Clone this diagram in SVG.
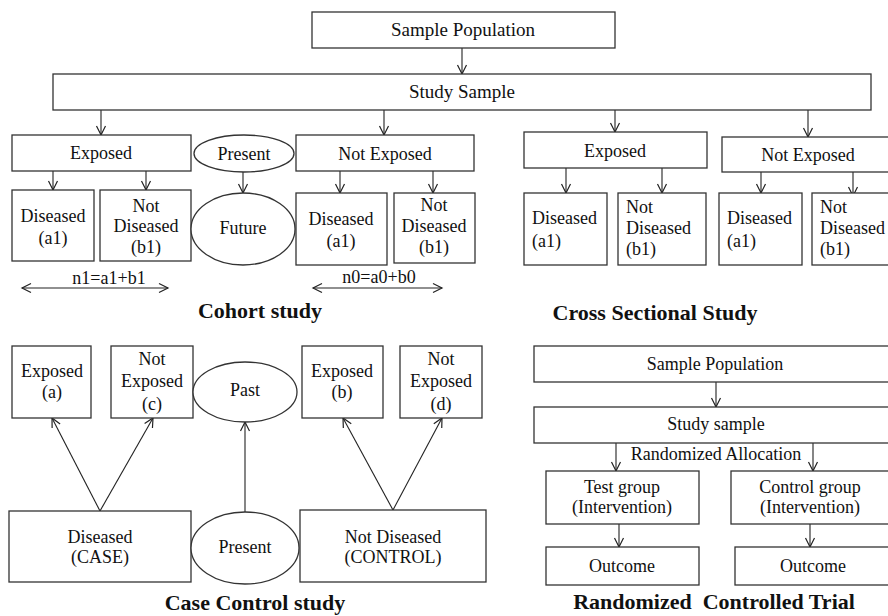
<svg xmlns="http://www.w3.org/2000/svg" width="888" height="616" viewBox="0 0 888 616">
<style>
.b{fill:#fff;stroke:#333;stroke-width:1.3}
.t{font-family:"Liberation Serif","Times New Roman",serif;font-size:18px;fill:#111;text-anchor:middle}
.l{text-anchor:start}
.big{font-size:19px}
.h{font-family:"Liberation Serif","Times New Roman",serif;font-size:22px;font-weight:bold;fill:#111;text-anchor:middle}
.c{fill:none;stroke:#222;stroke-width:1.1}
</style>
<defs>
<marker id="ah" viewBox="-10 -6 12 12" refX="0" refY="0" markerWidth="12" markerHeight="12" markerUnits="userSpaceOnUse" orient="auto-start-reverse">
<path d="M-9,-4.5 L0,0 L-9,4.5" fill="none" stroke="#222" stroke-width="1.2"/>
</marker>
</defs>
<rect width="888" height="616" fill="#fff"/>

<g id="connectors">
<line class="c" x1="462" y1="48" x2="462" y2="74" marker-end="url(#ah)"/>
<line class="c" x1="101" y1="110" x2="101" y2="135" marker-end="url(#ah)"/>
<line class="c" x1="384" y1="110" x2="384" y2="135" marker-end="url(#ah)"/>
<line class="c" x1="615" y1="110" x2="615" y2="132" marker-end="url(#ah)"/>
<line class="c" x1="808" y1="110" x2="808" y2="137" marker-end="url(#ah)"/>
<line class="c" x1="53" y1="171" x2="53" y2="190" marker-end="url(#ah)"/>
<line class="c" x1="146" y1="171" x2="146" y2="190" marker-end="url(#ah)"/>
<line class="c" x1="243" y1="172" x2="243" y2="193" marker-end="url(#ah)"/>
<line class="c" x1="340" y1="171" x2="340" y2="193" marker-end="url(#ah)"/>
<line class="c" x1="433" y1="171" x2="433" y2="193" marker-end="url(#ah)"/>
<line class="c" x1="22" y1="288" x2="168" y2="288" marker-start="url(#ah)" marker-end="url(#ah)"/>
<line class="c" x1="313" y1="288" x2="442" y2="288" marker-start="url(#ah)" marker-end="url(#ah)"/>
<line class="c" x1="566" y1="168" x2="566" y2="193" marker-end="url(#ah)"/>
<line class="c" x1="662" y1="168" x2="662" y2="193" marker-end="url(#ah)"/>
<line class="c" x1="761" y1="172" x2="761" y2="193" marker-end="url(#ah)"/>
<line class="c" x1="853" y1="172" x2="853" y2="196" marker-end="url(#ah)"/>
<line class="c" x1="100" y1="511" x2="52" y2="418" marker-end="url(#ah)"/>
<line class="c" x1="100" y1="511" x2="153" y2="418" marker-end="url(#ah)"/>
<line class="c" x1="245" y1="512" x2="245" y2="422" marker-end="url(#ah)"/>
<line class="c" x1="393" y1="510" x2="343" y2="418" marker-end="url(#ah)"/>
<line class="c" x1="393" y1="510" x2="442" y2="418" marker-end="url(#ah)"/>
<line class="c" x1="716" y1="382" x2="716" y2="407" marker-end="url(#ah)"/>
<line class="c" x1="616" y1="443" x2="616" y2="471" marker-end="url(#ah)"/>
<line class="c" x1="813" y1="443" x2="813" y2="471" marker-end="url(#ah)"/>
<line class="c" x1="619" y1="524" x2="619" y2="547" marker-end="url(#ah)"/>
<line class="c" x1="810" y1="524" x2="810" y2="547" marker-end="url(#ah)"/>
</g>

<g id="top-sample-population"><rect class="b" x="312" y="12" width="303" height="36"/><text class="t big" x="463" y="36">Sample Population</text></g>
<g id="top-study-sample"><rect class="b" x="53" y="74" width="818" height="36"/><text class="t big" x="462" y="98">Study Sample</text></g>

<g id="cohort-exposed"><rect class="b" x="12" y="135" width="179" height="36"/><text class="t" x="101" y="159">Exposed</text></g>
<g id="cohort-present"><ellipse class="b" cx="244" cy="153.5" rx="50" ry="18.5"/><text class="t" x="244" y="160">Present</text></g>
<g id="cohort-not-exposed"><rect class="b" x="296" y="135" width="178" height="36"/><text class="t" x="385" y="160">Not Exposed</text></g>
<g id="cohort-diseased-1"><rect class="b" x="12" y="190" width="82" height="71"/><text class="t" x="53" y="222">Diseased</text><text class="t" x="53" y="244">(a1)</text></g>
<g id="cohort-not-diseased-1"><rect class="b" x="100" y="190" width="91" height="71"/><text class="t" x="146" y="212">Not</text><text class="t" x="146" y="232">Diseased</text><text class="t" x="146" y="253">(b1)</text></g>
<g id="cohort-future"><ellipse class="b" cx="243" cy="229" rx="52" ry="36"/><text class="t" x="243" y="234">Future</text></g>
<g id="cohort-diseased-0"><rect class="b" x="296" y="193" width="91" height="72"/><text class="t" x="341" y="225">Diseased</text><text class="t" x="341" y="247">(a1)</text></g>
<g id="cohort-not-diseased-0"><rect class="b" x="394" y="193" width="81" height="70"/><text class="t" x="434" y="211">Not</text><text class="t" x="434" y="232">Diseased</text><text class="t" x="434" y="253">(b1)</text></g>
<g id="cohort-n1"><text class="t" x="109" y="284">n1=a1+b1</text></g>
<g id="cohort-n0"><text class="t" x="379" y="283">n0=a0+b0</text></g>
<g id="cohort-title"><text class="h" x="260" y="318">Cohort study</text></g>

<g id="cs-exposed"><rect class="b" x="524" y="132" width="183" height="36"/><text class="t" x="615" y="157">Exposed</text></g>
<g id="cs-not-exposed"><rect class="b" x="722" y="137" width="170" height="35"/><text class="t" x="808" y="161">Not Exposed</text></g>
<g id="cs-diseased-1"><rect class="b" x="524" y="193" width="83" height="72"/><text class="t l" x="532" y="224">Diseased</text><text class="t l" x="532" y="247">(a1)</text></g>
<g id="cs-not-diseased-1"><rect class="b" x="618" y="193" width="88" height="72"/><text class="t l" x="626" y="213">Not</text><text class="t l" x="626" y="234">Diseased</text><text class="t l" x="626" y="255">(b1)</text></g>
<g id="cs-diseased-0"><rect class="b" x="719" y="193" width="83" height="72"/><text class="t l" x="727" y="224">Diseased</text><text class="t l" x="727" y="247">(a1)</text></g>
<g id="cs-not-diseased-0"><rect class="b" x="812" y="193" width="80" height="72"/><text class="t l" x="820" y="213">Not</text><text class="t l" x="820" y="234">Diseased</text><text class="t l" x="820" y="255">(b1)</text></g>
<g id="cs-title"><text class="h" x="655" y="320">Cross Sectional Study</text></g>

<g id="cc-exposed-a"><rect class="b" x="12" y="346" width="79" height="72"/><text class="t" x="52" y="377">Exposed</text><text class="t" x="52" y="398">(a)</text></g>
<g id="cc-not-exposed-c"><rect class="b" x="111" y="346" width="82" height="72"/><text class="t" x="152" y="365">Not</text><text class="t" x="152" y="387">Exposed</text><text class="t" x="152" y="410">(c)</text></g>
<g id="cc-past"><ellipse class="b" cx="245" cy="392" rx="52" ry="30"/><text class="t" x="245" y="396">Past</text></g>
<g id="cc-exposed-b"><rect class="b" x="302" y="346" width="81" height="72"/><text class="t" x="342" y="377">Exposed</text><text class="t" x="342" y="398">(b)</text></g>
<g id="cc-not-exposed-d"><rect class="b" x="400" y="346" width="82" height="72"/><text class="t" x="441" y="365">Not</text><text class="t" x="441" y="387">Exposed</text><text class="t" x="441" y="410">(d)</text></g>
<g id="cc-case"><rect class="b" x="9" y="511" width="182" height="71"/><text class="t" x="100" y="543">Diseased</text><text class="t" x="100" y="563">(CASE)</text></g>
<g id="cc-present"><ellipse class="b" cx="245" cy="548" rx="54" ry="36"/><text class="t" x="245" y="553">Present</text></g>
<g id="cc-control"><rect class="b" x="300" y="510" width="186" height="72"/><text class="t" x="393" y="543">Not Diseased</text><text class="t" x="393" y="563">(CONTROL)</text></g>
<g id="cc-title"><text class="h" x="255" y="610">Case Control study</text></g>

<g id="rct-sample-population"><rect class="b" x="534" y="346" width="358" height="36"/><text class="t" x="715" y="370">Sample Population</text></g>
<g id="rct-study-sample"><rect class="b" x="534" y="407" width="358" height="36"/><text class="t" x="716" y="430">Study sample</text></g>
<g id="rct-allocation"><text class="t" x="716" y="460">Randomized Allocation</text></g>
<g id="rct-test"><rect class="b" x="546" y="471" width="153" height="53"/><text class="t" x="622" y="493">Test group</text><text class="t" x="622" y="513">(Intervention)</text></g>
<g id="rct-control"><rect class="b" x="731" y="471" width="161" height="53"/><text class="t" x="810" y="493">Control group</text><text class="t" x="810" y="513">(Intervention)</text></g>
<g id="rct-outcome-1"><rect class="b" x="546" y="547" width="153" height="38"/><text class="t" x="622" y="572">Outcome</text></g>
<g id="rct-outcome-2"><rect class="b" x="735" y="547" width="157" height="38"/><text class="t" x="813" y="572">Outcome</text></g>
<g id="rct-title"><text class="h" x="714" y="609" xml:space="preserve">Randomized  Controlled Trial</text></g>
</svg>
